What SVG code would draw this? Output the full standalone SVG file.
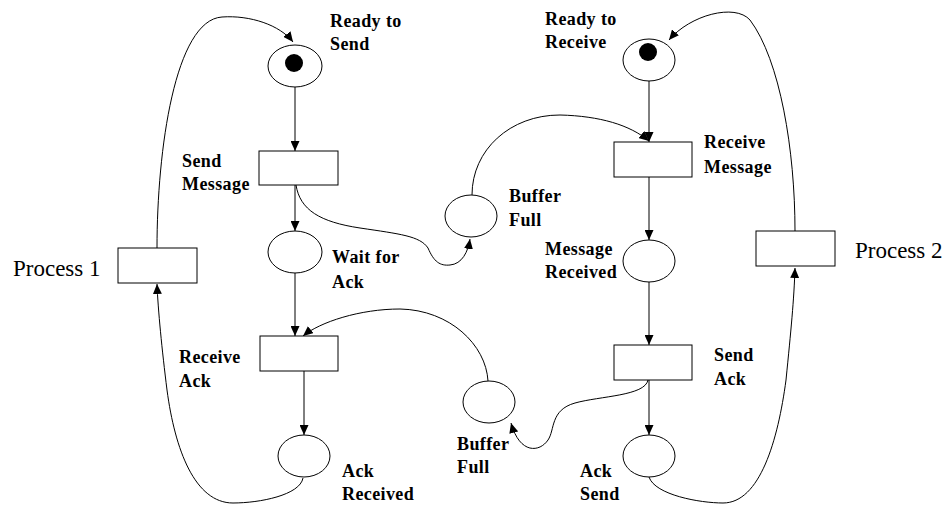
<svg xmlns="http://www.w3.org/2000/svg" width="946" height="506" viewBox="0 0 946 506">
<defs>
<style>
.place{fill:#fff;stroke:#000;stroke-width:1}
.trans{fill:#fff;stroke:#000;stroke-width:1}
.tok{fill:#000}
.lbl{font-family:"Liberation Serif","Times New Roman",serif;font-size:18px;font-weight:bold;fill:#000;letter-spacing:0.4px}
.big{font-family:"Liberation Serif","Times New Roman",serif;font-size:23px;fill:#000}
.arc{fill:none;stroke:#000;stroke-width:1;marker-end:url(#ah)}
</style>
<marker id="ah" markerWidth="10" markerHeight="9" refX="10" refY="4.5" orient="auto" markerUnits="userSpaceOnUse">
<path d="M0,0 L10,4.5 L0,9 z" fill="#000"/>
</marker>
</defs>
<rect width="946" height="506" fill="#fff"/>
<g id="connectors">
<path class="arc" d="M295,87 L295,151"/>
<path class="arc" d="M295,185 L295,231"/>
<path class="arc" d="M295,273 L295,336"/>
<path class="arc" d="M304,371 L304,435"/>
<path class="arc" d="M649,80 L649,142"/>
<path class="arc" d="M649,177 L649,240"/>
<path class="arc" d="M649,282 L649,345"/>
<path class="arc" d="M649,380 L649,435"/>
<path class="arc" d="M296,185 C300,210 320,222 360,228 C400,234 420,236 428,248 C434,262 440,266 450,265 C462,264 468,252 470,239"/>
<path class="arc" d="M472,195 C472,150 510,115 560,115 C600,116 630,125 649,141"/>
<path class="arc" d="M648,380 C645,396 600,396 575,403 C550,410 555,430 548,440 C540,452 520,455 511,423"/>
<path class="arc" d="M488,381 C486,345 450,310 400,309 C360,309 320,322 303,336"/>
<path class="arc" d="M303,478 C300,495 260,503 233,503 C195,503 175,450 167,390 C162,350 158,310 157,284"/>
<path class="arc" d="M157,248 C157,150 175,20 222,17 C250,15 280,25 293,42"/>
<path class="arc" d="M649,477 C655,495 700,503 723,503 C760,503 778,440 786,380 C791,330 794,300 795,268"/>
<path class="arc" d="M795,231 C795,150 780,60 750,20 C735,3 690,15 669,40"/>
</g>
<g id="ready-to-send">
<ellipse class="place" cx="295" cy="66" rx="27" ry="21"/>
<circle class="tok" cx="294" cy="63" r="9"/>
<text class="lbl" x="330" y="27">Ready to</text>
<text class="lbl" x="330" y="50">Send</text>
</g>
<g id="send-message">
<rect class="trans" x="259" y="151" width="79" height="34"/>
<text class="lbl" x="182" y="167">Send</text>
<text class="lbl" x="182" y="190">Message</text>
</g>
<g id="wait-for-ack">
<ellipse class="place" cx="295" cy="252" rx="27" ry="21"/>
<text class="lbl" x="332" y="263">Wait for</text>
<text class="lbl" x="332" y="288">Ack</text>
</g>
<g id="receive-ack">
<rect class="trans" x="260" y="336" width="78" height="35"/>
<text class="lbl" x="179" y="363">Receive</text>
<text class="lbl" x="179" y="387">Ack</text>
</g>
<g id="ack-received">
<ellipse class="place" cx="304" cy="456" rx="26" ry="21"/>
<text class="lbl" x="342" y="477">Ack</text>
<text class="lbl" x="342" y="500">Received</text>
</g>
<g id="process-1">
<rect class="trans" x="118" y="248" width="79" height="35"/>
<text class="big" x="13" y="276">Process 1</text>
</g>
<g id="buffer-full-1">
<ellipse class="place" cx="471" cy="216" rx="26" ry="21"/>
<text class="lbl" x="509" y="202">Buffer</text>
<text class="lbl" x="509" y="226">Full</text>
</g>
<g id="buffer-full-2">
<ellipse class="place" cx="489" cy="402" rx="26" ry="21"/>
<text class="lbl" x="457" y="450">Buffer</text>
<text class="lbl" x="457" y="473">Full</text>
</g>
<g id="ready-to-receive">
<ellipse class="place" cx="649" cy="60" rx="26" ry="21"/>
<circle class="tok" cx="648" cy="52" r="9"/>
<text class="lbl" x="545" y="25">Ready to</text>
<text class="lbl" x="545" y="48">Receive</text>
</g>
<g id="receive-message">
<rect class="trans" x="614" y="142" width="78" height="35"/>
<text class="lbl" x="704" y="148">Receive</text>
<text class="lbl" x="704" y="173">Message</text>
</g>
<g id="message-received">
<ellipse class="place" cx="649" cy="261" rx="26" ry="21"/>
<text class="lbl" x="545" y="255">Message</text>
<text class="lbl" x="545" y="278">Received</text>
</g>
<g id="send-ack">
<rect class="trans" x="614" y="345" width="78" height="35"/>
<text class="lbl" x="714" y="361">Send</text>
<text class="lbl" x="714" y="385">Ack</text>
</g>
<g id="ack-send">
<ellipse class="place" cx="649" cy="456" rx="26" ry="21"/>
<text class="lbl" x="580" y="477">Ack</text>
<text class="lbl" x="580" y="500">Send</text>
</g>
<g id="process-2">
<rect class="trans" x="756" y="231" width="79" height="35"/>
<text class="big" x="855" y="258">Process 2</text>
</g>
</svg>
